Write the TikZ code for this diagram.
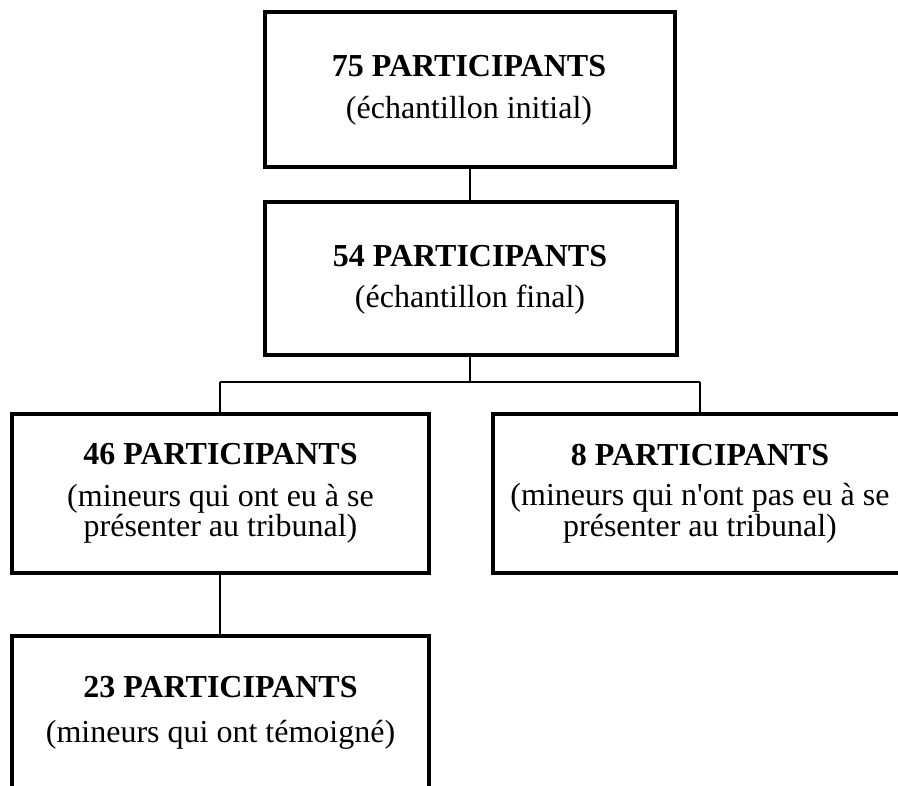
\documentclass[tikz,border=0pt]{standalone}
\usepackage{fontspec}
\setmainfont{Liberation Serif}
\tikzstyle{bx}=[rectangle,draw=black,line width=3.5pt,inner sep=0pt,
  minimum width=414pt,minimum height=157pt]
\tikzstyle{ttl}=[anchor=base,inner sep=0pt,font=\fontsize{32}{32}\selectfont\bfseries]
\tikzstyle{sub}=[anchor=base,inner sep=0pt,font=\fontsize{32}{32}\selectfont]
\tikzstyle{none}=[inner sep=0pt]
\begin{document}
\begin{tikzpicture}[x=1pt, y=1pt, line width=2pt]
    \clip (0,0) rectangle (898,786);
    \node [style=bx, minimum width=410pt, minimum height=155pt] (0) at (470, 696.5) {};
    \node [style=bx, minimum width=412pt, minimum height=153pt] (1) at (471, 507.5) {};
    \node [style=bx, minimum width=417pt, minimum height=159pt] (2) at (220.5, 292.5) {};
    \node [style=bx, minimum height=159pt] (3) at (700, 292.5) {};
    \node [style=bx, minimum width=417pt] (4) at (220.5, 71.5) {};
    \node [style=ttl] (5) at (469, 709) {75 PARTICIPANTS};
    \node [style=sub] (6) at (469, 667) {(échantillon initial)};
    \node [style=ttl] (7) at (470, 519) {54 PARTICIPANTS};
    \node [style=sub] (8) at (470, 478) {(échantillon final)};
    \node [style=ttl] (9) at (220.5, 321) {46 PARTICIPANTS};
    \node [style=sub] (10) at (220.5, 279) {(mineurs qui ont eu à se};
    \node [style=sub] (11) at (220.5, 249) {présenter au tribunal)};
    \node [style=ttl] (12) at (700, 320) {8 PARTICIPANTS};
    \node [style=sub] (13) at (700, 280) {(mineurs qui n\textquotesingle ont pas eu à se};
    \node [style=sub] (14) at (700, 249) {présenter au tribunal)};
    \node [style=ttl] (15) at (220.5, 88) {23 PARTICIPANTS};
    \node [style=sub] (16) at (220.5, 43) {(mineurs qui ont témoigné)};
    \node [style=none] (17) at (220, 404) {};
    \node [style=none] (18) at (700, 404) {};
    \node [style=none] (19) at (470, 404) {};
    \draw (0.south -| 19) to (1.north -| 19);
    \draw (1.south -| 19) to (19.center);
    \draw (17.center) to (18.center);
    \draw (17.center) to (2.north -| 17);
    \draw (18.center) to (3.north);
    \draw (2.south -| 17) to (4.north -| 17);
\end{tikzpicture}
\end{document}
